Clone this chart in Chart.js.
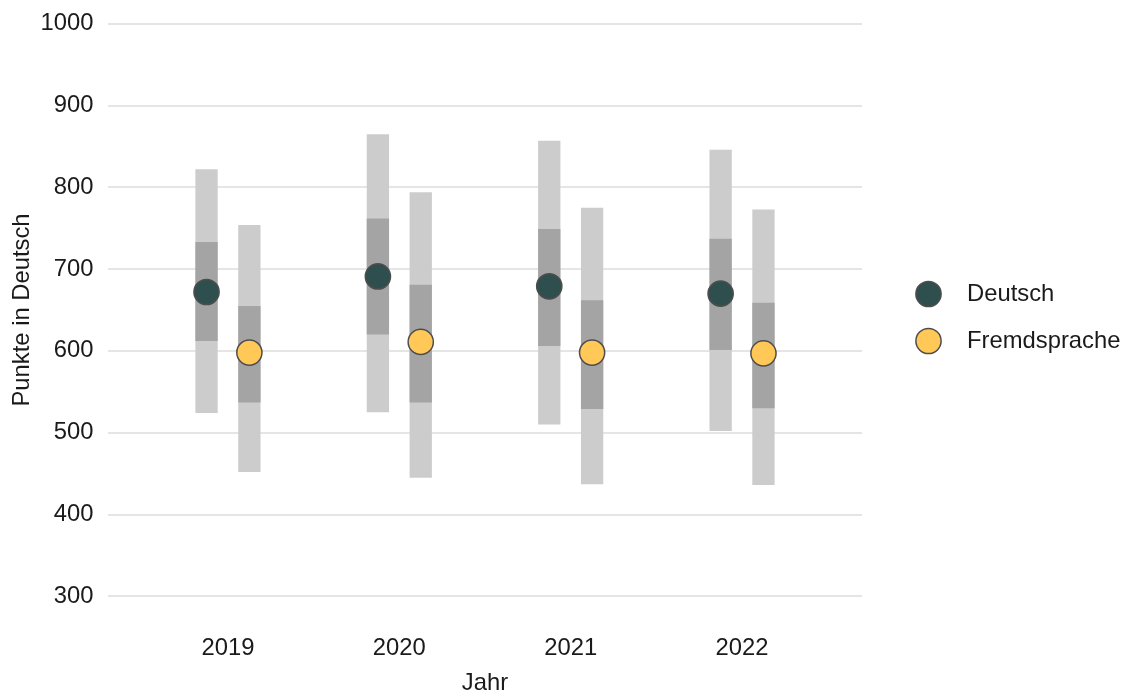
<!DOCTYPE html>
<html lang="de">
<head>
    <meta charset="UTF-8">
    <title>Punkte in Deutsch</title>
    <script src="https://cdn.jsdelivr.net/npm/chart.js"></script>
    <style>
        *{
            margin: 0;
            padding: 0;
        }
        body{
            background-color: white;
            width: 1126px;
            height: 693px;
            overflow: hidden;
        }
    </style>
</head>
<body>
    <canvas id="chart" width="1126" height="693"></canvas>
    <script>
        // Jahre
        const years = [2019, 2020, 2021, 2022]
        const yTicks = [300, 400, 500, 600, 700, 800, 900, 1000]

        // Deutsch: Mittelwert, 25/75 und 5/95 Perzentile
        const deutschMean = [672, 691, 679, 670]
        const deutschP25 = [612, 620, 606, 601]
        const deutschP75 = [733, 762, 749, 737]
        const deutschP5 = [524, 525, 510, 502]
        const deutschP95 = [822, 865, 857, 846]

        // Fremdsprache
        const fremdMean = [598, 611, 598, 597]
        const fremdP25 = [537, 537, 529, 530]
        const fremdP75 = [655, 681, 662, 659]
        const fremdP5 = [452, 445, 437, 436]
        const fremdP95 = [754, 794, 775, 773]

        const dodge = 0.125
        const fontFamily = "'Liberation Sans', Arial, sans-serif"
        const fontSize = 23.8
        const textColor = '#1a1a1a'
        const lightGrey = 'rgb(204,204,204)'
        const darkGrey = 'rgb(164,164,164)'

        function bars(lo, hi, shift){
            return years.map((y, i) => ({x: y + shift, y: [lo[i], hi[i]]}))
        }
        function pts(vals, shift){
            return years.map((y, i) => ({x: y + shift, y: vals[i]}))
        }

        const barOpts = {
            grouped: false,
            maxBarThickness: 22.3,
            borderWidth: 0
        }

        const datasets = [
            Object.assign({label: 'Deutsch 5-95', data: bars(deutschP5, deutschP95, -dodge), backgroundColor: lightGrey, order: 3}, barOpts),
            Object.assign({label: 'Fremdsprache 5-95', data: bars(fremdP5, fremdP95, dodge), backgroundColor: lightGrey, order: 3}, barOpts),
            Object.assign({label: 'Deutsch 25-75', data: bars(deutschP25, deutschP75, -dodge), backgroundColor: darkGrey, order: 2}, barOpts),
            Object.assign({label: 'Fremdsprache 25-75', data: bars(fremdP25, fremdP75, dodge), backgroundColor: darkGrey, order: 2}, barOpts),
            {
                type: 'scatter',
                label: 'Deutsch',
                legend: true,
                data: pts(deutschMean, -dodge),
                backgroundColor: '#2f4f4f',
                borderColor: '#4d4d4d',
                pointRadius: 12.6,
                pointHoverRadius: 12.6,
                pointBorderWidth: 1.5,
                order: 1
            },
            {
                type: 'scatter',
                label: 'Fremdsprache',
                legend: true,
                data: pts(fremdMean, dodge),
                backgroundColor: '#ffc857',
                borderColor: '#4d4d4d',
                pointRadius: 12.6,
                pointHoverRadius: 12.6,
                pointBorderWidth: 1.5,
                order: 1
            }
        ]

        // Legende rechts neben dem Plot
        const sideLegend = {
            id: 'sideLegend',
            afterDraw(chart){
                const ctx = chart.ctx
                const items = chart.data.datasets.filter(d => d.legend)
                const x = chart.chartArea.right + 66.5
                let y = 294
                ctx.save()
                ctx.font = fontSize + 'px ' + fontFamily
                ctx.textBaseline = 'middle'
                ctx.textAlign = 'left'
                items.forEach(d => {
                    ctx.beginPath()
                    ctx.arc(x, y, 12.6, 0, Math.PI * 2)
                    ctx.fillStyle = d.backgroundColor
                    ctx.fill()
                    ctx.lineWidth = 1.5
                    ctx.strokeStyle = d.borderColor
                    ctx.stroke()
                    ctx.fillStyle = textColor
                    ctx.fillText(d.label, x + 38.5, y)
                    y += 47
                })
                ctx.restore()
            }
        }

        Chart.defaults.font.family = fontFamily
        Chart.defaults.font.size = fontSize
        Chart.defaults.color = textColor

        const chart = new Chart(document.getElementById('chart'), {
            type: 'bar',
            data: {datasets: datasets},
            options: {
                responsive: false,
                animation: false,
                layout: {
                    padding: {left: 0, right: 264, top: 23.7, bottom: 0}
                },
                plugins: {
                    legend: {display: false},
                    tooltip: {enabled: false}
                },
                scales: {
                    x: {
                        type: 'linear',
                        min: 2018.3,
                        max: 2022.7,
                        offset: false,
                        grid: {display: false},
                        border: {display: false},
                        afterBuildTicks: s => { s.ticks = years.map(v => ({value: v})) },
                        afterFit: s => { s.height = 693 - 596.3 },
                        ticks: {
                            padding: 30,
                            callback: v => String(v)
                        },
                        title: {
                            display: true,
                            text: 'Jahr',
                            font: {size: fontSize, lineHeight: 1},
                            padding: {top: 0, bottom: -2}
                        }
                    },
                    y: {
                        min: 300,
                        max: 1000,
                        grid: {color: '#e5e5e5', lineWidth: 2, drawTicks: false},
                        border: {display: false},
                        afterBuildTicks: s => { s.ticks = yTicks.map(v => ({value: v})) },
                        afterFit: s => {
                            s.width = 108
                            s.paddingTop = 0
                            s.paddingBottom = 0
                        },
                        ticks: {
                            padding: 14.5,
                            callback: v => String(v)
                        },
                        title: {
                            display: true,
                            text: 'Punkte in Deutsch',
                            padding: {top: 8.5, bottom: 0}
                        }
                    }
                }
            },
            plugins: [sideLegend]
        })
    </script>
</body>
</html>
